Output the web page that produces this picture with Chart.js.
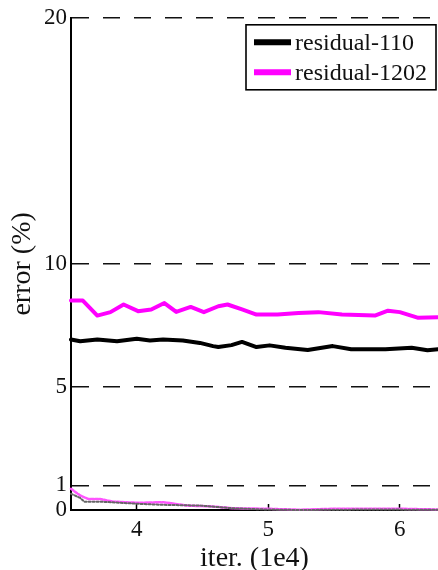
<!DOCTYPE html>
<html>
<head>
<meta charset="utf-8">
<script src="https://cdn.jsdelivr.net/npm/chart.js@4.4.1/dist/chart.umd.min.js"></script>
<style>
  html, body { margin: 0; padding: 0; background: #fff; overflow: hidden; }
  canvas { display: block; }
</style>
</head>
<body>
<canvas id="c" width="438" height="570"></canvas>
<script>
// Axis ticks
const xTicks = [4, 5, 6];
const yTicks = [0, 1, 5, 10, 20];
const seriesNames = ['residual-110', 'residual-1202'];

// Test error, residual-110 (iterations in units of 1e4, error in %)
const testIter110 = [3.50, 3.57, 3.70, 3.85, 4.00, 4.10, 4.20, 4.35, 4.48, 4.58, 4.62, 4.72, 4.80, 4.91, 5.01, 5.13, 5.30, 5.49, 5.63, 5.89, 6.09, 6.21, 6.29];
const testErr110  = [6.93, 6.86, 6.93, 6.86, 6.96, 6.89, 6.93, 6.89, 6.79, 6.66, 6.62, 6.70, 6.83, 6.62, 6.69, 6.59, 6.50, 6.66, 6.53, 6.53, 6.59, 6.49, 6.53];

// Test error, residual-1202
const testIter1202 = [3.50, 3.59, 3.70, 3.80, 3.90, 4.01, 4.11, 4.21, 4.30, 4.41, 4.51, 4.62, 4.69, 4.80, 4.91, 5.07, 5.23, 5.38, 5.56, 5.81, 5.91, 6.00, 6.14, 6.29];
const testErr1202  = [8.51, 8.51, 7.90, 8.04, 8.35, 8.08, 8.15, 8.41, 8.05, 8.25, 8.04, 8.28, 8.35, 8.15, 7.94, 7.94, 8.00, 8.04, 7.94, 7.90, 8.10, 8.04, 7.81, 7.83];

// Training error, residual-110
const trainIter110 = [3.50, 3.57, 3.60, 3.72, 4.02, 4.20, 4.48, 4.73, 4.99, 5.24, 5.75, 6.29];
const trainErr110  = [0.66, 0.49, 0.34, 0.34, 0.25, 0.21, 0.18, 0.07, 0.02, 0.00, 0.02, 0.01];

// Training error, residual-1202
const trainIter1202 = [3.50, 3.57, 3.63, 3.72, 3.82, 4.02, 4.20, 4.38, 4.56, 4.73, 4.99, 5.24, 5.49, 5.75, 6.00, 6.29];
const trainErr1202  = [0.86, 0.59, 0.45, 0.45, 0.34, 0.29, 0.32, 0.18, 0.15, 0.07, 0.05, 0.01, 0.05, 0.05, 0.05, 0.02];

const pts = (xs, ys) => xs.map((x, i) => ({ x, y: ys[i] }));
const SERIF = '"Liberation Serif", "Times New Roman", serif';

// Boxed legend in the upper right corner of the plot area
const boxLegend = {
  id: 'boxLegend',
  afterDraw(chart) {
    const { ctx, chartArea } = chart;
    const items = chart.data.datasets.filter(d => seriesNames.includes(d.label));
    const w = 190, rowH = 30, h = items.length * rowH + 5;
    const right = chartArea.right - 2, top = chartArea.top + 7;
    const left = right - w;
    ctx.save();
    ctx.fillStyle = '#fff';
    ctx.fillRect(left, top, w, h);
    ctx.strokeStyle = '#000';
    ctx.lineWidth = 1.6;
    ctx.strokeRect(left, top, w, h);
    ctx.font = '24px ' + SERIF;
    ctx.textBaseline = 'middle';
    ctx.textAlign = 'left';
    items.forEach((d, i) => {
      const y = top + 17.5 + i * rowH;
      ctx.strokeStyle = d.borderColor;
      ctx.lineWidth = 6;
      ctx.beginPath();
      ctx.moveTo(left + 8, y);
      ctx.lineTo(left + 45, y);
      ctx.stroke();
      ctx.fillStyle = '#111';
      ctx.fillText(d.label, left + 49, y + 1);
    });
    ctx.restore();
  }
};

new Chart(document.getElementById('c'), {
  type: 'line',
  data: {
    datasets: [
      { label: seriesNames[0], data: pts(testIter110, testErr110), borderColor: '#000000', borderWidth: 4 },
      { label: seriesNames[1], data: pts(testIter1202, testErr1202), borderColor: '#ff00ff', borderWidth: 4 },
      { label: seriesNames[0] + ' train', data: pts(trainIter110, trainErr110), borderColor: '#666666', borderWidth: 2, borderDash: [2, 2] },
      { label: seriesNames[1] + ' train', data: pts(trainIter1202, trainErr1202), borderColor: '#ff55ff', borderWidth: 2.5, borderDash: [3, 1.5] }
    ]
  },
  options: {
    responsive: false,
    animation: false,
    devicePixelRatio: 1,
    layout: { padding: { top: 16, right: 0, bottom: 0, left: 0 } },
    elements: {
      point: { radius: 0 },
      line: { tension: 0, fill: false, borderJoinStyle: 'round', borderCapStyle: 'round' }
    },
    datasets: { line: { clip: 5 } },
    plugins: { legend: { display: false }, tooltip: { enabled: false } },
    scales: {
      x: {
        type: 'linear',
        min: 3.5,
        max: 6.29,
        afterBuildTicks: s => { s.ticks = xTicks.map(v => ({ value: v })); },
        afterFit: s => { s.height = 60; },
        grid: { drawOnChartArea: false, drawTicks: true, tickLength: -6, tickColor: '#000', tickWidth: 1.5 },
        border: { display: true, color: '#000', width: 2 },
        ticks: { color: '#111', padding: 12, font: { family: SERIF, size: 23 }, maxRotation: 0 },
        title: { display: true, text: 'iter. (1e4)', color: '#111', padding: 0, font: { family: SERIF, size: 28, lineHeight: 0.8 } }
      },
      y: {
        type: 'linear',
        min: 0,
        max: 20,
        afterBuildTicks: s => { s.ticks = yTicks.map(v => ({ value: v })); },
        afterFit: s => { s.width = 71; },
        grid: {
          drawTicks: false,
          color: ctx => (ctx.tick && ctx.tick.value === 0) ? 'rgba(0,0,0,0)' : '#111',
          lineWidth: 1.6
        },
        border: { display: true, color: '#000', width: 2, dash: [17, 14] },
        ticks: { color: '#111', padding: 4, font: { family: SERIF, size: 23 } },
        title: { display: true, text: 'error (%)', color: '#111', padding: { top: 6, bottom: 0 }, font: { family: SERIF, size: 28, lineHeight: 1.2 } }
      }
    }
  },
  plugins: [boxLegend]
});
</script>
</body>
</html>
